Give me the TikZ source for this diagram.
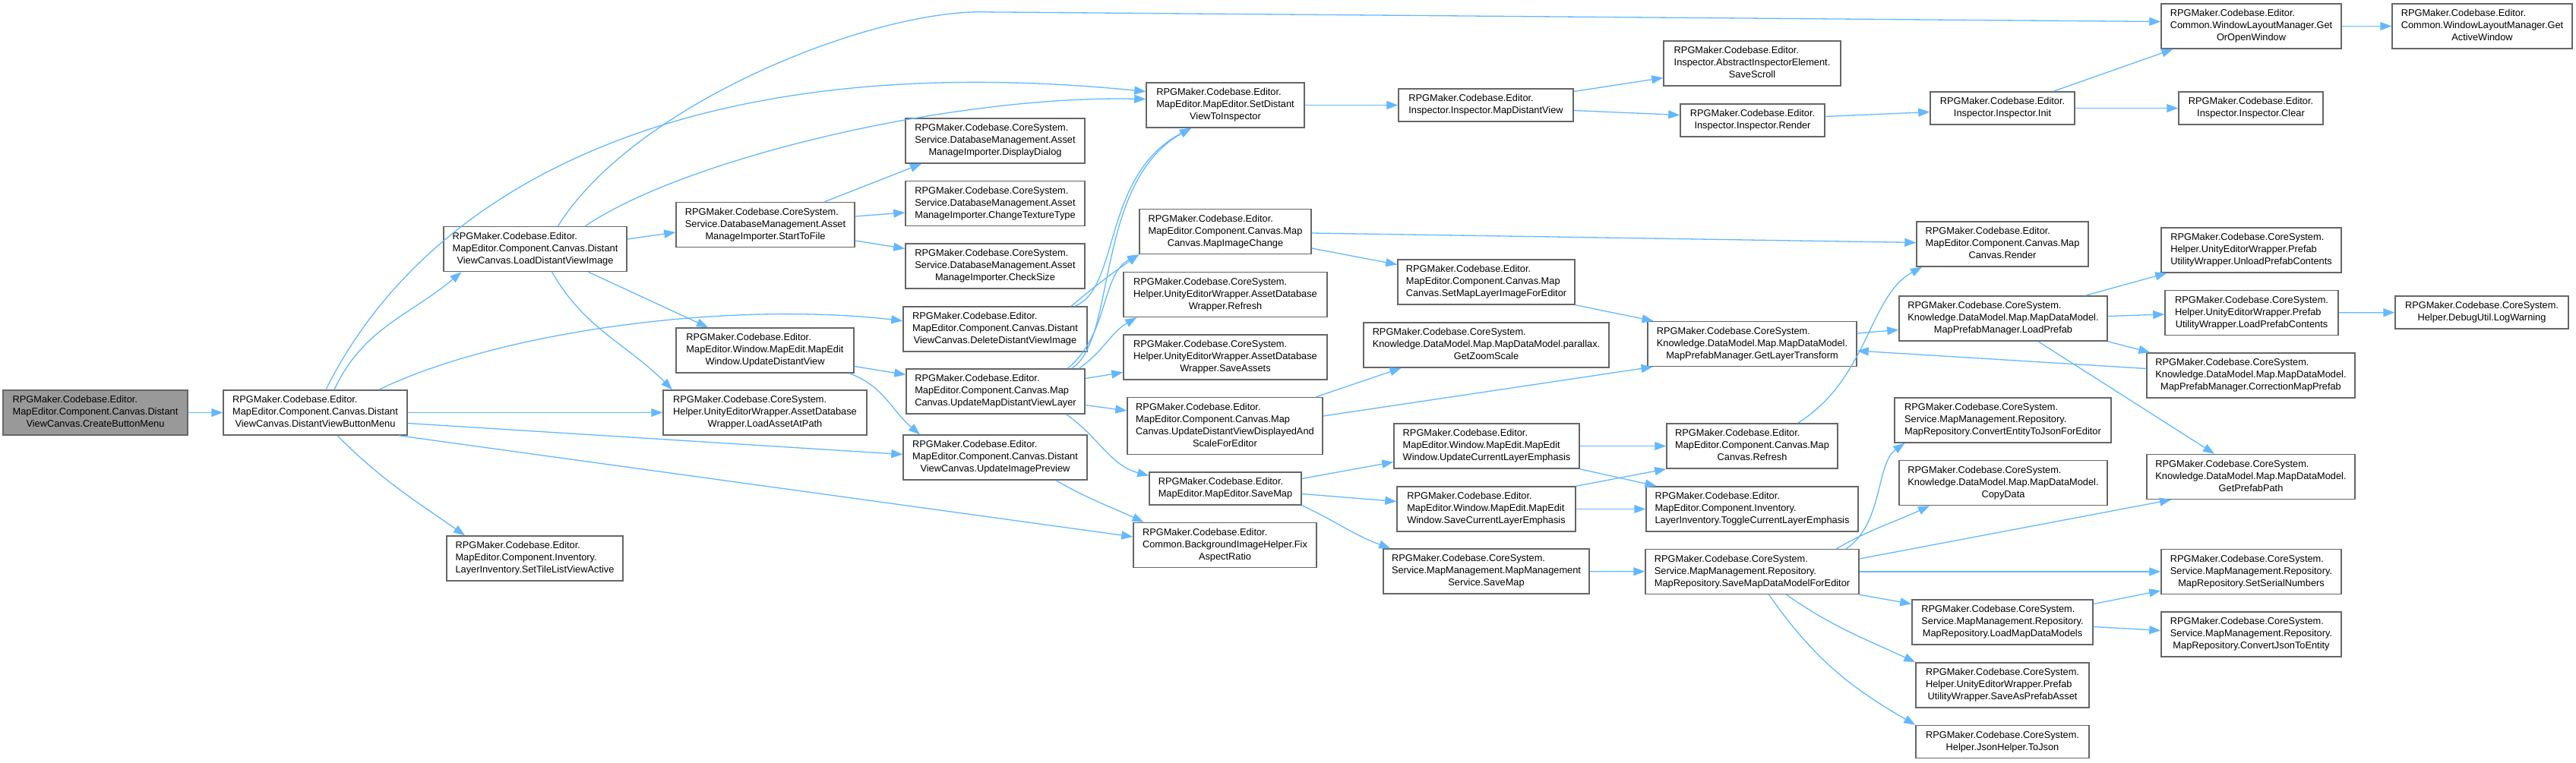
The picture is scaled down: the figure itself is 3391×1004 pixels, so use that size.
\documentclass[tikz,border=0pt]{standalone}
\usepackage{fontspec}
\setmainfont{Liberation Sans}
\usepackage{tikz}
\usetikzlibrary{arrows.meta}

\definecolor{edgeblue}{HTML}{63B8FF}
\definecolor{boxgray}{HTML}{666666}
\definecolor{startgray}{HTML}{999999}

% label: all lines left, the last one centred
\newcommand{\fnl}[2]{\begin{tabular}{@{}l@{}}#1\\\multicolumn{1}{@{}c@{}}{#2}\end{tabular}}

\begin{document}
\begin{tikzpicture}[x=1pt, y=1pt,
  fn/.style={rectangle, draw=boxgray, line width=1.5pt, fill=white, inner xsep=2pt, inner ysep=5.5pt, font=\fontsize{12.8}{16}\selectfont},
  startfn/.style={fn, fill=startgray},
  callarr/.style={draw=edgeblue, line width=1.3pt, -{Triangle[length=15pt,width=11pt]}}]
  \useasboundingbox (0,0) rectangle (3391,-1004);
  % caller and first ranks
  \node[startfn, minimum width=243pt] (cbm) at (125.5,-543.5) {\fnl{RPGMaker.Codebase.Editor.\\MapEditor.Component.Canvas.Distant}{ViewCanvas.CreateButtonMenu}};
  \node[fn, minimum width=242pt] (dvbm) at (415,-543.5) {\fnl{RPGMaker.Codebase.Editor.\\MapEditor.Component.Canvas.Distant}{ViewCanvas.DistantViewButtonMenu}};
  \node[fn, minimum width=241pt] (ldvi) at (704.5,-328) {\fnl{RPGMaker.Codebase.Editor.\\MapEditor.Component.Canvas.Distant}{ViewCanvas.LoadDistantViewImage}};
  \node[fn, minimum width=232pt] (stlva) at (704,-735.5) {\fnl{RPGMaker.Codebase.Editor.\\MapEditor.Component.Inventory.}{LayerInventory.SetTileListViewActive}};
  \node[fn, minimum width=235pt] (stf) at (1007.5,-296) {\fnl{RPGMaker.Codebase.CoreSystem.\\Service.DatabaseManagement.Asset}{ManageImporter.StartToFile}};
  \node[fn, minimum width=234pt] (udv) at (1007,-461.5) {\fnl{RPGMaker.Codebase.Editor.\\MapEditor.Window.MapEdit.MapEdit}{Window.UpdateDistantView}};
  \node[fn, minimum width=268pt] (laap) at (1007,-543.5) {\fnl{RPGMaker.Codebase.CoreSystem.\\Helper.UnityEditorWrapper.AssetDatabase}{Wrapper.LoadAssetAtPath}};
  % rank 4
  \node[fn, minimum width=236pt] (dd) at (1310,-185.5) {\fnl{RPGMaker.Codebase.CoreSystem.\\Service.DatabaseManagement.Asset}{ManageImporter.DisplayDialog}};
  \node[fn, minimum width=236pt] (ctt) at (1310,-268) {\fnl{RPGMaker.Codebase.CoreSystem.\\Service.DatabaseManagement.Asset}{ManageImporter.ChangeTextureType}};
  \node[fn, minimum width=236pt] (cs) at (1310,-350.5) {\fnl{RPGMaker.Codebase.CoreSystem.\\Service.DatabaseManagement.Asset}{ManageImporter.CheckSize}};
  \node[fn, minimum width=242pt] (ddvi) at (1310,-433.5) {\fnl{RPGMaker.Codebase.Editor.\\MapEditor.Component.Canvas.Distant}{ViewCanvas.DeleteDistantViewImage}};
  \node[fn, minimum width=235pt] (umdvl) at (1310.5,-515.5) {\fnl{RPGMaker.Codebase.Editor.\\MapEditor.Component.Canvas.Map}{Canvas.UpdateMapDistantViewLayer}};
  \node[fn, minimum width=242pt] (uip) at (1310,-602.5) {\fnl{RPGMaker.Codebase.Editor.\\MapEditor.Component.Canvas.Distant}{ViewCanvas.UpdateImagePreview}};
  % rank 5
  \node[fn, minimum width=208pt] (sdvti) at (1613,-138.5) {\fnl{RPGMaker.Codebase.Editor.\\MapEditor.MapEditor.SetDistant}{ViewToInspector}};
  \node[fn, minimum width=226pt] (mic) at (1613,-305) {\fnl{RPGMaker.Codebase.Editor.\\MapEditor.Component.Canvas.Map}{Canvas.MapImageChange}};
  \node[fn, minimum width=268pt] (adwr) at (1613,-388) {\fnl{RPGMaker.Codebase.CoreSystem.\\Helper.UnityEditorWrapper.AssetDatabase}{Wrapper.Refresh}};
  \node[fn, minimum width=268pt] (sa) at (1613,-470.5) {\fnl{RPGMaker.Codebase.CoreSystem.\\Helper.UnityEditorWrapper.AssetDatabase}{Wrapper.SaveAssets}};
  \node[fn, minimum width=257pt] (udvd) at (1612.5,-561) {\fnl{RPGMaker.Codebase.Editor.\\MapEditor.Component.Canvas.Map\\Canvas.UpdateDistantViewDisplayedAnd}{ScaleForEditor}};
  \node[fn, minimum width=200pt] (smap) at (1613,-643.5) {\fnl{RPGMaker.Codebase.Editor.}{MapEditor.MapEditor.SaveMap}};
  \node[fn, minimum width=241pt] (far) at (1612.5,-718) {\fnl{RPGMaker.Codebase.Editor.\\Common.BackgroundImageHelper.Fix}{AspectRatio}};
  % rank 6
  \node[fn, minimum width=230pt] (imdv) at (1956,-138.5) {\fnl{RPGMaker.Codebase.Editor.}{Inspector.Inspector.MapDistantView}};
  \node[fn, minimum width=233pt] (smlife) at (1956.5,-371.5) {\fnl{RPGMaker.Codebase.Editor.\\MapEditor.Component.Canvas.Map}{Canvas.SetMapLayerImageForEditor}};
  \node[fn, minimum width=323pt] (gzs) at (1956.5,-454.5) {\fnl{RPGMaker.Codebase.CoreSystem.\\Knowledge.DataModel.Map.MapDataModel.parallax.}{GetZoomScale}};
  \node[fn, minimum width=244pt] (ucle) at (1957,-587.5) {\fnl{RPGMaker.Codebase.Editor.\\MapEditor.Window.MapEdit.MapEdit}{Window.UpdateCurrentLayerEmphasis}};
  \node[fn, minimum width=235pt] (scle) at (1956.5,-670.5) {\fnl{RPGMaker.Codebase.Editor.\\MapEditor.Window.MapEdit.MapEdit}{Window.SaveCurrentLayerEmphasis}};
  \node[fn, minimum width=271pt] (mmssm) at (1956.5,-752.5) {\fnl{RPGMaker.Codebase.CoreSystem.\\Service.MapManagement.MapManagement}{Service.SaveMap}};
  % rank 7
  \node[fn, minimum width=233pt] (ss) at (2306.5,-83.5) {\fnl{RPGMaker.Codebase.Editor.\\Inspector.AbstractInspectorElement.}{SaveScroll}};
  \node[fn, minimum width=190pt] (ir) at (2307,-158.5) {\fnl{RPGMaker.Codebase.Editor.}{Inspector.Inspector.Render}};
  \node[fn, minimum width=275pt] (glt) at (2306.5,-453) {\fnl{RPGMaker.Codebase.CoreSystem.\\Knowledge.DataModel.Map.MapDataModel.}{MapPrefabManager.GetLayerTransform}};
  \node[fn, minimum width=225pt] (mcr) at (2306.5,-587.5) {\fnl{RPGMaker.Codebase.Editor.\\MapEditor.Component.Canvas.Map}{Canvas.Refresh}};
  \node[fn, minimum width=279pt] (tcle) at (2306.5,-670.5) {\fnl{RPGMaker.Codebase.Editor.\\MapEditor.Component.Inventory.}{LayerInventory.ToggleCurrentLayerEmphasis}};
  \node[fn, minimum width=281pt] (smdm) at (2306.5,-753) {\fnl{RPGMaker.Codebase.CoreSystem.\\Service.MapManagement.Repository.}{MapRepository.SaveMapDataModelForEditor}};
  % rank 8
  \node[fn, minimum width=190pt] (ii) at (2636,-142.5) {\fnl{RPGMaker.Codebase.Editor.}{Inspector.Inspector.Init}};
  \node[fn, minimum width=226pt] (mcrend) at (2636,-321.5) {\fnl{RPGMaker.Codebase.Editor.\\MapEditor.Component.Canvas.Map}{Canvas.Render}};
  \node[fn, minimum width=274pt] (lp) at (2637,-419.5) {\fnl{RPGMaker.Codebase.CoreSystem.\\Knowledge.DataModel.Map.MapDataModel.}{MapPrefabManager.LoadPrefab}};
  \node[fn, minimum width=285pt] (cetj) at (2636.5,-553.5) {\fnl{RPGMaker.Codebase.CoreSystem.\\Service.MapManagement.Repository.}{MapRepository.ConvertEntityToJsonForEditor}};
  \node[fn, minimum width=274pt] (cd) at (2637,-636) {\fnl{RPGMaker.Codebase.CoreSystem.\\Knowledge.DataModel.Map.MapDataModel.}{CopyData}};
  \node[fn, minimum width=238pt] (lmdm) at (2636,-819.5) {\fnl{RPGMaker.Codebase.CoreSystem.\\Service.MapManagement.Repository.}{MapRepository.LoadMapDataModels}};
  \node[fn, minimum width=228pt] (sapa) at (2636,-902.5) {\fnl{RPGMaker.Codebase.CoreSystem.\\Helper.UnityEditorWrapper.Prefab}{UtilityWrapper.SaveAsPrefabAsset}};
  \node[fn, minimum width=228pt] (jtj) at (2636,-977) {\fnl{RPGMaker.Codebase.CoreSystem.}{Helper.JsonHelper.ToJson}};
  % rank 9 and 10
  \node[fn, minimum width=237pt] (goow) at (2963.5,-34.5) {\fnl{RPGMaker.Codebase.Editor.\\Common.WindowLayoutManager.Get}{OrOpenWindow}};
  \node[fn, minimum width=190pt] (ic) at (2963,-142.5) {\fnl{RPGMaker.Codebase.Editor.}{Inspector.Inspector.Clear}};
  \node[fn, minimum width=237pt] (upc) at (2963.5,-329.5) {\fnl{RPGMaker.Codebase.CoreSystem.\\Helper.UnityEditorWrapper.Prefab}{UtilityWrapper.UnloadPrefabContents}};
  \node[fn, minimum width=228pt] (lpc) at (2964,-412) {\fnl{RPGMaker.Codebase.CoreSystem.\\Helper.UnityEditorWrapper.Prefab}{UtilityWrapper.LoadPrefabContents}};
  \node[fn, minimum width=274pt] (cmp) at (2963,-494.5) {\fnl{RPGMaker.Codebase.CoreSystem.\\Knowledge.DataModel.Map.MapDataModel.}{MapPrefabManager.CorrectionMapPrefab}};
  \node[fn, minimum width=274pt] (gpp) at (2963,-628) {\fnl{RPGMaker.Codebase.CoreSystem.\\Knowledge.DataModel.Map.MapDataModel.}{GetPrefabPath}};
  \node[fn, minimum width=237pt] (ssn) at (2963.5,-753) {\fnl{RPGMaker.Codebase.CoreSystem.\\Service.MapManagement.Repository.}{MapRepository.SetSerialNumbers}};
  \node[fn, minimum width=237pt] (cjte) at (2963.5,-835.5) {\fnl{RPGMaker.Codebase.CoreSystem.\\Service.MapManagement.Repository.}{MapRepository.ConvertJsonToEntity}};
  \node[fn, minimum width=237pt] (gaw) at (3267.5,-34.5) {\fnl{RPGMaker.Codebase.Editor.\\Common.WindowLayoutManager.Get}{ActiveWindow}};
  \node[fn, minimum width=228pt] (lw) at (3267,-411.5) {\fnl{RPGMaker.Codebase.CoreSystem.}{Helper.DebugUtil.LogWarning}};

  % calls out of the first ranks
  \draw[callarr] (cbm) -- (dvbm);
  \draw[callarr] ([xshift=25pt]dvbm.north) to[out=65,in=220] ([xshift=-97pt]ldvi.south);
  \draw[callarr] ([xshift=14pt]dvbm.north) .. controls +(131,264) and +(-609,60) .. ([yshift=18pt]sdvti.west);
  \draw[callarr] ([xshift=84pt]dvbm.north) .. controls +(151,74) and +(-239,27) .. ([yshift=11pt]ddvi.west);
  \draw[callarr] (dvbm) -- (laap);
  \draw[callarr] ([yshift=-14pt]dvbm.east) -- ([yshift=4pt]uip.west);
  \draw[callarr] ([xshift=110pt]dvbm.south) -- ([yshift=11pt]far.west);
  \draw[callarr] ([xshift=29pt]dvbm.south) to[out=-45,in=145] ([xshift=-92pt]stlva.north);
  \draw[callarr] ([xshift=30pt]ldvi.north) .. controls +(100,160) and +(-150,0) .. ++(556,282) -- ([yshift=6pt]goow.west);
  \draw[callarr] ([xshift=66pt]ldvi.north) .. controls +(129,88) and +(-259,5) .. ([yshift=8pt]sdvti.west);
  \draw[callarr] ([yshift=13pt]ldvi.east) -- ([yshift=-10pt]stf.west);
  \draw[callarr] ([xshift=70pt]ldvi.south) -- ([xshift=-75pt]udv.north);
  \draw[callarr] ([xshift=22pt]ldvi.south) to[out=-60,in=135] ([xshift=-122pt]laap.north);
  \draw[callarr] ([xshift=78pt]stf.north) -- ([xshift=-97pt]dd.south);
  \draw[callarr] ([yshift=11pt]stf.east) -- ([yshift=-12pt]ctt.west);
  \draw[callarr] ([yshift=-21pt]stf.east) -- ([yshift=23pt]cs.west);
  \draw[callarr] ([yshift=-21pt]udv.east) -- ([yshift=22pt]umdvl.west);
  \draw[callarr] ([xshift=111pt]udv.south) to[out=-20,in=140] ([xshift=-99pt]uip.north);
  % rank 4 to rank 5
  \draw[callarr] ([xshift=100pt]ddvi.north) to[out=40,in=215] (mic.south west);
  \draw[callarr] ([xshift=105pt]ddvi.north) .. controls +(60,24) and +(-118,-62) .. ([xshift=-45pt]sdvti.south);
  \draw[callarr] ([xshift=100pt]umdvl.north) .. controls +(60,36) and +(-128,-72) .. ([xshift=-45pt]sdvti.south);
  \draw[callarr] ([xshift=95pt]umdvl.north) .. controls +(55,46) and +(-50,-26) .. (mic.south west);
  \draw[callarr] ([xshift=110pt]umdvl.north) to[out=35,in=210] ([xshift=18pt]adwr.south west);
  \draw[callarr] ([yshift=17pt]umdvl.east) -- ([yshift=-20pt]sa.west);
  \draw[callarr] ([yshift=-18pt]umdvl.east) -- ([yshift=20pt]udvd.west);
  \draw[callarr] ([xshift=93pt]umdvl.south) to[out=-35,in=165] ([yshift=17pt]smap.west);
  \draw[callarr] ([xshift=80pt]uip.south) to[out=-30,in=155] ([xshift=-107pt]far.north);
  % rank 5 to rank 6
  \draw[callarr] (sdvti) -- (imdv);
  \draw[callarr] ([yshift=-2pt]mic.east) -- ([yshift=2pt]mcrend.west);
  \draw[callarr] ([yshift=-22pt]mic.east) -- ([yshift=23pt]smlife.west);
  \draw[callarr] ([xshift=120pt]udvd.north) -- ([xshift=-112pt]gzs.south);
  \draw[callarr] ([yshift=13pt]udvd.east) -- ([xshift=-131pt]glt.south);
  \draw[callarr] ([yshift=13pt]smap.east) -- ([yshift=-21pt]ucle.west);
  \draw[callarr] ([yshift=-7pt]smap.east) -- ([yshift=10pt]scle.west);
  \draw[callarr] (smap.south east) to[out=-25,in=160] ([xshift=10pt]mmssm.north west);
  % rank 6 to rank 7
  \draw[callarr] ([yshift=18pt]imdv.east) -- ([yshift=-19pt]ss.west);
  \draw[callarr] ([yshift=-7pt]imdv.east) -- ([yshift=7pt]ir.west);
  \draw[callarr] (smlife.south east) -- ([xshift=-130pt]glt.north);
  \draw[callarr] (ucle) -- (mcr);
  \draw[callarr] (ucle.south east) -- ([xshift=-126pt]tcle.north);
  \draw[callarr] (scle.north east) -- (mcr.south west);
  \draw[callarr] (scle) -- (tcle);
  \draw[callarr] (mmssm) -- (smdm);
  % rank 7 to rank 8
  \draw[callarr] ([yshift=5pt]ir.east) -- ([yshift=-5pt]ii.west);
  \draw[callarr] ([xshift=60pt]mcr.north) .. controls +(93,58) and +(-70,-38) .. ([xshift=-106pt]mcrend.south);
  \draw[callarr] ([yshift=14pt]glt.east) -- ([yshift=-15pt]lp.west);
  \draw[callarr] ([xshift=124pt]smdm.north) .. controls +(49,34) and +(-38,-27) .. ([xshift=14pt]cetj.south west);
  \draw[callarr] ([xshift=111pt]smdm.north) to[out=30,in=205] ([xshift=-97pt]cd.south);
  \draw[callarr] ([yshift=17pt]smdm.east) -- ([xshift=-105pt]gpp.south);
  \draw[callarr] (smdm) -- (ssn);
  \draw[callarr] (smdm.south east) -- ([yshift=24pt]lmdm.west);
  \draw[callarr] ([xshift=45pt]smdm.south) to[out=-35,in=155] (sapa.north west);
  \draw[callarr] ([xshift=22pt]smdm.south) to[out=-55,in=150] (jtj.north west);
  % rank 8 onwards
  \draw[callarr] ([xshift=67pt]ii.north) -- ([xshift=-103pt]goow.south);
  \draw[callarr] (ii) -- (ic);
  \draw[callarr] ([xshift=108pt]lp.north) -- ([xshift=8pt]upc.south west);
  \draw[callarr] ([yshift=3pt]lp.east) -- ([yshift=-2pt]lpc.west);
  \draw[callarr] (lp.south east) -- ([xshift=5pt]cmp.north west);
  \draw[callarr] ([xshift=46pt]lp.south) -- ([xshift=-48pt]gpp.north);
  \draw[callarr] ([yshift=24pt]lmdm.east) -- ([yshift=-25pt]ssn.west);
  \draw[callarr] ([yshift=-6pt]lmdm.east) -- ([yshift=5pt]cjte.west);
  \draw[callarr] (goow) -- (gaw);
  \draw[callarr] (lpc) -- (lw);
  \draw[callarr] ([yshift=9pt]cmp.west) -- ([yshift=-9pt]glt.east);
\end{tikzpicture}
\end{document}
